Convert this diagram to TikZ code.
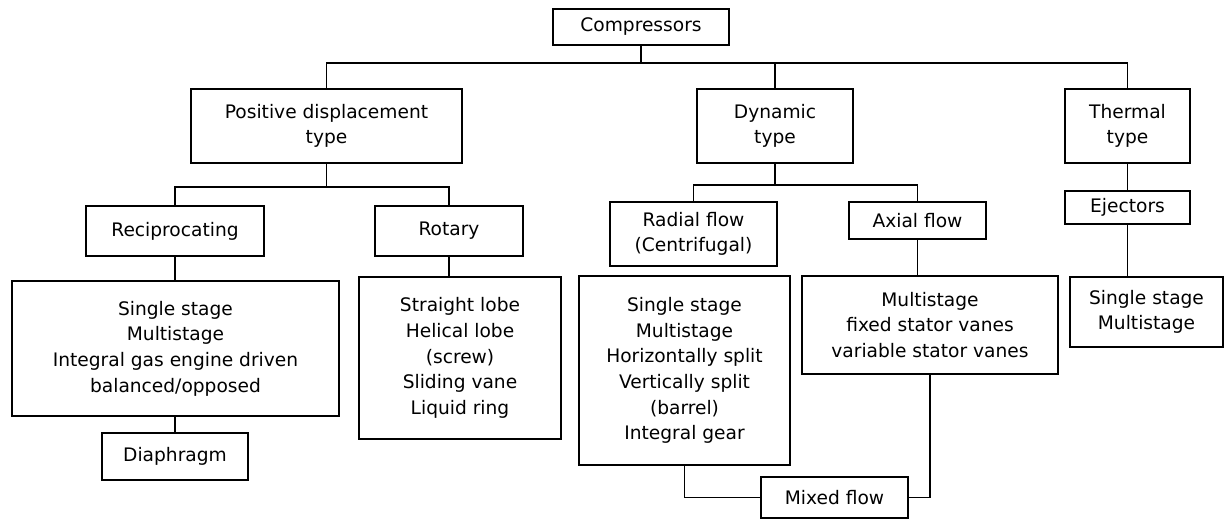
\documentclass[tikz,border=0pt]{standalone}
\usepackage{fontspec}
\setmainfont{DejaVu Sans}
\usepackage{tikz}
\newcommand{\px}{0.02cm}

\begin{document}
\begin{tikzpicture}[
  x=\px, y=-\px,
  every node/.style={align=center, font=\fontsize{10.6}{14.6}\selectfont},
  box/.style={draw, line width=1.1pt, inner sep=0pt},
  wh/.style 2 args={minimum width=#1*\px, minimum height=#2*\px},
  ln/.style={line width=1.1pt}
]
\useasboundingbox (0,0) rectangle (1227,520);
% top levels
\node[box, wh={176}{36}] (comp) at (641,27) {Compressors};
\node[box, wh={271}{74}] (pd) at (326.5,126) {Positive displacement\\type};
\node[box, wh={156}{74}] (dyn) at (775,126) {Dynamic\\type};
\node[box, wh={125}{74}] (therm) at (1127.5,126) {Thermal\\type};
\node[box, wh={178}{50}] (recip) at (175,231) {Reciprocating};
\node[box, wh={148}{50}] (rot) at (449,231) {Rotary};
\node[box, wh={167}{64}] (radial) at (693.5,234) {Radial flow\\(Centrifugal)};
\node[box, wh={137}{37}] (axial) at (917.5,220.5) {Axial flow};
\node[box, wh={125}{33}] (eject) at (1127.5,207.5) {Ejectors};
% lists
\node[box, wh={327}{135}] (reclist) at (175.5,348.5) {Single stage\\Multistage\\Integral gas engine driven\\balanced/opposed};
\node[box, wh={202}{162}] (rotlist) at (460,358) {Straight lobe\\Helical lobe\\(screw)\\Sliding vane\\Liquid ring};
\node[box, wh={211}{189}] (radlist) at (684.5,370.5) {Single stage\\Multistage\\Horizontally split\\Vertically split\\(barrel)\\Integral gear};
\node[box, wh={256}{98}] (axlist) at (930,325) {Multistage\\fixed stator vanes\\variable stator vanes};
\node[box, wh={153}{70}] (thlist) at (1146.5,312) {Single stage\\Multistage};
\node[box, wh={146}{47}] (diaph) at (175,456.5) {Diaphragm};
\node[box, wh={147}{41}] (mixed) at (834.5,497.5) {Mixed flow};
% connectors
\draw[ln] (comp.south) -- ++(0,17) coordinate (b0);
\draw[ln] (pd.north) |- (b0) -| (therm.north);
\draw[ln] (dyn.north) |- (b0);
\draw[ln] (pd.south) -- ++(0,23) coordinate (b1);
\draw[ln] (recip.north) |- (b1) -| (rot.north);
\draw[ln] (dyn.south) -- ++(0,21) coordinate (b2);
\draw[ln] (radial.north) |- (b2) -| (axial.north);
\draw[ln] (therm) -- (eject);
\draw[ln] (eject.south) -- (eject.south |- thlist.north);
\draw[ln] (recip.south) -- (recip.south |- reclist.north);
\draw[ln] (diaph.north) -- (diaph.north |- reclist.south);
\draw[ln] (rot.south) -- (rot.south |- rotlist.north);
\draw[ln] (axial.south) -- (axial.south |- axlist.north);
\draw[ln] (radlist.south) |- (mixed.west);
\draw[ln] (axlist.south) |- (mixed.east);
\end{tikzpicture}
\end{document}
